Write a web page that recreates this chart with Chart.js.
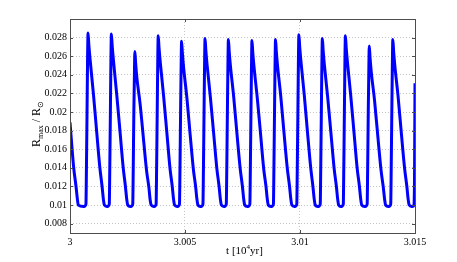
<!DOCTYPE html>
<html>
<head>
<meta charset="utf-8">
<script src="https://cdn.jsdelivr.net/npm/chart.js@4.4.0/dist/chart.umd.min.js"></script>
<style>
    html, body { margin: 0; padding: 0; background: #ffffff; }
    #wrap { width: 457px; height: 262px; }
</style>
</head>
<body>
<div id="wrap"><canvas id="chart" width="457" height="262"></canvas></div>
<script>
// t in units of 10^4 yr
const timeValues = [
    3.000000, 3.000161, 3.000262, 3.000318, 3.000362,
    3.000589, 3.000663, 3.000693, 3.000715, 3.000741, 3.000763, 3.000785, 3.000820, 3.000872, 3.001016, 3.001156, 3.001299, 3.001395, 3.001448, 3.001496,
    3.001604, 3.001678, 3.001708, 3.001730, 3.001756, 3.001778, 3.001800, 3.001835, 3.001887, 3.002031, 3.002171, 3.002314, 3.002410, 3.002463, 3.002511,
    3.002624, 3.002698, 3.002728, 3.002750, 3.002776, 3.002798, 3.002820, 3.002855, 3.002907, 3.003051, 3.003191, 3.003334, 3.003430, 3.003483, 3.003531,
    3.003640, 3.003714, 3.003744, 3.003766, 3.003792, 3.003814, 3.003836, 3.003871, 3.003923, 3.004067, 3.004207, 3.004350, 3.004446, 3.004499, 3.004547,
    3.004656, 3.004730, 3.004760, 3.004782, 3.004808, 3.004830, 3.004852, 3.004887, 3.004939, 3.005083, 3.005223, 3.005366, 3.005462, 3.005515, 3.005563,
    3.005676, 3.005750, 3.005780, 3.005802, 3.005828, 3.005850, 3.005872, 3.005907, 3.005959, 3.006103, 3.006243, 3.006386, 3.006482, 3.006535, 3.006583,
    3.006691, 3.006765, 3.006795, 3.006817, 3.006843, 3.006865, 3.006887, 3.006922, 3.006974, 3.007118, 3.007258, 3.007401, 3.007497, 3.007550, 3.007598,
    3.007716, 3.007790, 3.007820, 3.007842, 3.007868, 3.007890, 3.007912, 3.007947, 3.007999, 3.008143, 3.008283, 3.008426, 3.008522, 3.008575, 3.008623,
    3.008740, 3.008814, 3.008844, 3.008866, 3.008892, 3.008914, 3.008936, 3.008971, 3.009023, 3.009167, 3.009307, 3.009450, 3.009546, 3.009599, 3.009647,
    3.009756, 3.009830, 3.009860, 3.009882, 3.009908, 3.009930, 3.009952, 3.009987, 3.010039, 3.010183, 3.010323, 3.010466, 3.010562, 3.010615, 3.010663,
    3.010776, 3.010850, 3.010880, 3.010902, 3.010928, 3.010950, 3.010972, 3.011007, 3.011059, 3.011203, 3.011343, 3.011486, 3.011582, 3.011635, 3.011683,
    3.011778, 3.011852, 3.011882, 3.011904, 3.011930, 3.011952, 3.011974, 3.012009, 3.012061, 3.012205, 3.012345, 3.012488, 3.012584, 3.012637, 3.012685,
    3.012816, 3.012890, 3.012920, 3.012942, 3.012968, 3.012990, 3.013012, 3.013047, 3.013099, 3.013243, 3.013383, 3.013526, 3.013622, 3.013675, 3.013723,
    3.013840, 3.013914, 3.013944, 3.013966, 3.013992, 3.014014, 3.014036, 3.014071, 3.014123, 3.014267, 3.014407, 3.014550, 3.014646, 3.014699, 3.014747,
    3.014856, 3.014930, 3.014960, 3.014982, 3.015000
];

// R_max / R_sun, same order as timeValues
const radiusValues = [
    0.0189, 0.0140, 0.0120, 0.0107, 0.0100,
    0.00985, 0.0099, 0.0101, 0.0140, 0.0200, 0.0255, 0.0285, 0.0272, 0.0257, 0.0220, 0.0180, 0.0140, 0.0120, 0.0107, 0.0100,
    0.00985, 0.0099, 0.0101, 0.0140, 0.0200, 0.0254, 0.0284, 0.0271, 0.0256, 0.0219, 0.0180, 0.0140, 0.0120, 0.0107, 0.0100,
    0.00985, 0.0099, 0.0101, 0.0140, 0.0200, 0.0235, 0.0265, 0.0252, 0.0237, 0.0208, 0.0172, 0.0136, 0.0119, 0.0106, 0.0100,
    0.00985, 0.0099, 0.0101, 0.0140, 0.0200, 0.0252, 0.0282, 0.0269, 0.0254, 0.0218, 0.0179, 0.0139, 0.0120, 0.0107, 0.0100,
    0.00985, 0.0099, 0.0101, 0.0140, 0.0200, 0.0246, 0.0276, 0.0263, 0.0248, 0.0215, 0.0176, 0.0138, 0.0120, 0.0107, 0.0100,
    0.00985, 0.0099, 0.0101, 0.0140, 0.0200, 0.0249, 0.0279, 0.0266, 0.0251, 0.0216, 0.0178, 0.0139, 0.0120, 0.0107, 0.0100,
    0.00985, 0.0099, 0.0101, 0.0140, 0.0200, 0.0248, 0.0278, 0.0265, 0.0250, 0.0216, 0.0177, 0.0139, 0.0120, 0.0107, 0.0100,
    0.00985, 0.0099, 0.0101, 0.0140, 0.0200, 0.0247, 0.0277, 0.0264, 0.0249, 0.0215, 0.0177, 0.0138, 0.0120, 0.0107, 0.0100,
    0.00985, 0.0099, 0.0101, 0.0140, 0.0200, 0.0248, 0.0278, 0.0265, 0.0250, 0.0216, 0.0177, 0.0139, 0.0120, 0.0107, 0.0100,
    0.00985, 0.0099, 0.0101, 0.0140, 0.0200, 0.0253, 0.0283, 0.0270, 0.0255, 0.0219, 0.0179, 0.0140, 0.0120, 0.0107, 0.0100,
    0.00985, 0.0099, 0.0101, 0.0140, 0.0200, 0.0249, 0.0279, 0.0266, 0.0251, 0.0216, 0.0178, 0.0139, 0.0120, 0.0107, 0.0100,
    0.00985, 0.0099, 0.0101, 0.0140, 0.0200, 0.0252, 0.0282, 0.0269, 0.0254, 0.0218, 0.0179, 0.0139, 0.0120, 0.0107, 0.0100,
    0.00985, 0.0099, 0.0101, 0.0140, 0.0200, 0.0241, 0.0271, 0.0258, 0.0243, 0.0212, 0.0174, 0.0137, 0.0119, 0.0107, 0.0100,
    0.00985, 0.0099, 0.0101, 0.0140, 0.0200, 0.0248, 0.0278, 0.0265, 0.0250, 0.0216, 0.0177, 0.0139, 0.0120, 0.0107, 0.0100,
    0.00985, 0.0099, 0.0101, 0.0140, 0.0231
];

const xTicks = [3, 3.005, 3.01, 3.015];
const xTickLabels = ['3', '3.005', '3.01', '3.015'];
const yTicks = [0.008, 0.01, 0.012, 0.014, 0.016, 0.018, 0.02, 0.022, 0.024, 0.026, 0.028];
const yTickLabels = ['0.008', '0.01', '0.012', '0.014', '0.016', '0.018', '0.02', '0.022', '0.024', '0.026', '0.028'];

const serif = '"Liberation Serif", "Times New Roman", serif';
const axisColor = '#4d4d4d';

// box, inward tick marks and the sub/superscript axis titles
const matlabAxes = {
    id: 'matlabAxes',
    afterDraw(chart) {
        const c = chart.ctx;
        const a = chart.chartArea;
        const xs = chart.scales.x, ys = chart.scales.y;
        c.save();
        c.strokeStyle = axisColor;
        c.lineWidth = 1;
        c.strokeRect(Math.round(a.left) + 0.5, Math.round(a.top) + 0.5,
            Math.round(a.right - a.left), Math.round(a.bottom - a.top));
        c.beginPath();
        xTicks.forEach(function (v) {
            const px = Math.round(xs.getPixelForValue(v)) + 0.5;
            c.moveTo(px, a.bottom); c.lineTo(px, a.bottom - 3);
            c.moveTo(px, a.top); c.lineTo(px, a.top + 3);
        });
        yTicks.forEach(function (v) {
            const py = Math.round(ys.getPixelForValue(v)) + 0.5;
            c.moveTo(a.left, py); c.lineTo(a.left + 3, py);
            c.moveTo(a.right, py); c.lineTo(a.right - 3, py);
        });
        c.stroke();

        c.fillStyle = '#000000';
        c.textBaseline = 'alphabetic';
        c.textAlign = 'left';

        // x title: t [10^4yr]
        const big = '11px ' + serif, small = '7px ' + serif;
        c.font = big; const w1 = c.measureText('t [10').width;
        c.font = small; const w2 = c.measureText('4').width;
        c.font = big; const w3 = c.measureText('yr]').width;
        let x0 = (a.left + a.right) / 2 + 2 - (w1 + w2 + w3) / 2;
        const by = 254;
        c.font = big; c.fillText('t [10', x0, by);
        c.font = small; c.fillText('4', x0 + w1, by - 5);
        c.font = big; c.fillText('yr]', x0 + w1 + w2, by);

        // y title: R_max / R_sun
        const yb = '12px ' + serif, ysub = '8px ' + serif;
        const parts = [
            { t: 'R', f: yb, dy: 0 },
            { t: 'max', f: ysub, dy: 3 },
            { t: ' / R', f: yb, dy: 0 },
            { t: '\u2299', f: ysub, dy: 3 }
        ];
        let total = 0;
        parts.forEach(function (p) { c.font = p.f; p.w = c.measureText(p.t).width; total += p.w; });
        c.translate(40, (a.top + a.bottom) / 2 - 2);
        c.rotate(-Math.PI / 2);
        let px = -total / 2;
        parts.forEach(function (p) {
            c.font = p.f;
            c.fillText(p.t, px, p.dy);
            px += p.w;
        });
        c.restore();
    }
};

const ctx = document.getElementById('chart');

new Chart(ctx, {
    type: 'line',
    data: {
        datasets: [{
            label: 'Rmax / Rsun',
            data: timeValues.map(function (t, i) { return { x: t, y: radiusValues[i] }; }),
            borderColor: '#0000ff',
            borderWidth: 3,
            pointRadius: 0,
            fill: false,
            cubicInterpolationMode: 'monotone'
        }]
    },
    options: {
        responsive: false,
        animation: false,
        layout: { padding: { top: 19, right: 42, left: 0, bottom: 0 } },
        plugins: {
            legend: { display: false },
            tooltip: { enabled: false }
        },
        scales: {
            x: {
                type: 'linear',
                min: 3,
                max: 3.015,
                afterBuildTicks: function (scale) {
                    scale.ticks = xTicks.map(function (v) { return { value: v }; });
                },
                afterFit: function (scale) { scale.height = 29; },
                ticks: {
                    color: '#000000',
                    font: { family: serif, size: 10 },
                    padding: 3,
                    maxRotation: 0,
                    callback: function (value) { return xTickLabels[xTicks.indexOf(value)]; }
                },
                grid: { color: '#c4c4c4', lineWidth: 1, drawTicks: false },
                border: { display: false, dash: [1, 2] }
            },
            y: {
                min: 0.007,
                max: 0.03,
                afterBuildTicks: function (scale) {
                    scale.ticks = yTicks.map(function (v) { return { value: v }; });
                },
                afterFit: function (scale) { scale.width = 70; },
                ticks: {
                    color: '#000000',
                    font: { family: serif, size: 10 },
                    padding: 3,
                    callback: function (value) { return yTickLabels[yTicks.indexOf(value)]; }
                },
                grid: { color: '#c4c4c4', lineWidth: 1, drawTicks: false },
                border: { display: false, dash: [1, 2] }
            }
        }
    },
    plugins: [matlabAxes]
});
</script>
</body>
</html>
